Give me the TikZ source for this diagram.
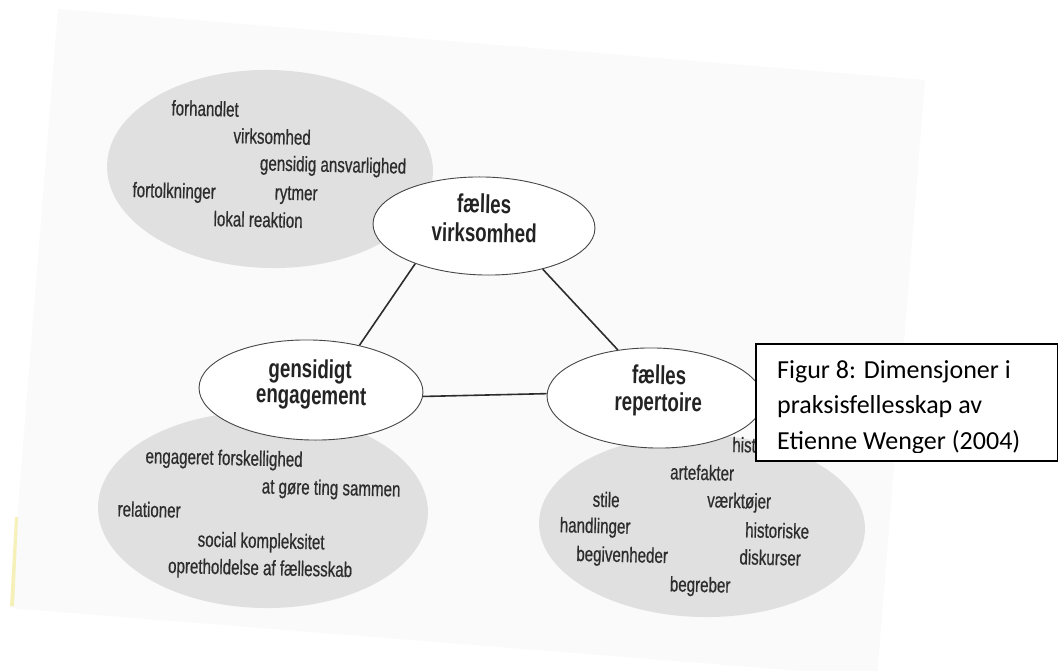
\documentclass[tikz,border=0pt]{standalone}
\usepackage{fontspec}
\newfontfamily\condfont[FakeStretch=0.72, FakeBold=0.6]{Liberation Sans}
\newfontfamily\condbold[FakeStretch=0.72]{Liberation Sans Bold}
\newfontfamily\capfont{Carlito}
\usetikzlibrary{shapes.geometric}
\definecolor{paper}{RGB}{250,250,250}
\definecolor{blob}{RGB}{224,224,224}
\definecolor{ink}{RGB}{45,45,45}
\definecolor{labelink}{RGB}{35,35,35}
\definecolor{edgecol}{RGB}{70,70,70}
\definecolor{scanyellow}{RGB}{240,232,130}
\begin{document}
\begin{tikzpicture}[x=1pt,y=-1pt,
  blobshape/.style={ellipse, fill=blob, draw=none, inner sep=0pt, rotate=-1.3},
  dimshape/.style={ellipse, fill=white, draw=edgecol, line width=0.9pt, inner sep=0pt, rotate=-1.3},
  item/.style={font=\condfont\fontsize{21}{24}\selectfont, text=ink, anchor=base, inner sep=0pt, rotate=-1.3},
  dimlabel/.style={font=\condbold\fontsize{26}{29}\selectfont, text=labelink, anchor=base, inner sep=0pt, rotate=-1.3},
  link/.style={draw=ink, line width=1.6pt},
  capbox/.style={rectangle, draw=black, line width=1.8pt, fill=white, inner sep=0pt, anchor=north west},
  captext/.style={font=\capfont\fontsize{26}{30}\selectfont, text=black, anchor=base west, inner sep=0pt}
]
\useasboundingbox (0,0) rectangle (1058,671);
\clip (0,0) rectangle (1058,671);
\fill[white] (0,0) rectangle (1058,671);
% scanned sheet
\fill[paper] (58,9) -- (925,80) -- (877,677) -- (10,608) -- cycle;
\fill[scanyellow, opacity=0.55] (15,517) -- (18,517) -- (14,606) -- (10,606) -- cycle;

% grey clouds
\node[blobshape, minimum width=326pt, minimum height=198pt] (blobV) at (270,169) {};
\node[blobshape, minimum width=330pt, minimum height=196pt] (blobE) at (263,510) {};
\node[blobshape, minimum width=326pt, minimum height=182pt] (blobR) at (702,526) {};

% items: fælles virksomhed
\node[item] (v1) at (205,116) {forhandlet};
\node[item] (v2) at (272,144) {virksomhed};
\node[item] (v3) at (333,172) {gensidig ansvarlighed};
\node[item] (v4) at (174,198) {fortolkninger};
\node[item] (v5) at (296,200) {rytmer};
\node[item] (v6) at (258,227) {lokal reaktion};

% items: gensidigt engagement
\node[item] (e1) at (224,465) {engageret forskellighed};
\node[item] (e2) at (331,495) {at gøre ting sammen};
\node[item] (e3) at (149,517) {relationer};
\node[item] (e4) at (261,548) {social kompleksitet};
\node[item] (e5) at (260,575) {opretholdelse af fællesskab};

% items: fælles repertoire
\node[item, anchor=base west] (r0) at (732,452) {hist};
\node[item] (r1) at (702,480) {artefakter};
\node[item] (r2) at (606,507) {stile};
\node[item] (r3) at (739,508) {værktøjer};
\node[item] (r4) at (595,533) {handlinger};
\node[item] (r5) at (777,538) {historiske};
\node[item] (r6) at (622,562) {begivenheder};
\node[item] (r7) at (770,565) {diskurser};
\node[item] (r8) at (700,592) {begreber};

% the three dimensions
\node[dimshape, minimum width=222pt, minimum height=98pt] (virk) at (484,226) {};
\node[dimshape, minimum width=224pt, minimum height=100pt] (eng) at (311,390) {};
\node[dimshape, minimum width=216pt, minimum height=100pt] (rep) at (655,398) {};

\node[dimlabel] (virkA) at (484,213) {fælles};
\node[dimlabel] (virkB) at (484,242) {virksomhed};
\node[dimlabel] (engA) at (310,378) {gensidigt};
\node[dimlabel] (engB) at (311,404) {engagement};
\node[dimlabel] (repA) at (659,384) {fælles};
\node[dimlabel] (repB) at (658,411) {repertoire};

\draw[link] (virk.210) -- (eng.44);
\draw[link] (virk.325) -- (rep.129);
\draw[link] (eng.358) -- (rep.179);

% caption box
\node[capbox, minimum width=302pt, minimum height=117pt] (cap) at (755,343) {};
\begin{scope}
\clip (755,343) rectangle (1058,452);
\node[captext] (capA) at (777,378) {Figur 8: Dimensjoner i};
\node[captext] (capB) at (777,413) {praksisfellesskap av};
\node[captext] (capC) at (777,449) {Etienne Wenger (2004)};
\end{scope}
\end{tikzpicture}
\end{document}
